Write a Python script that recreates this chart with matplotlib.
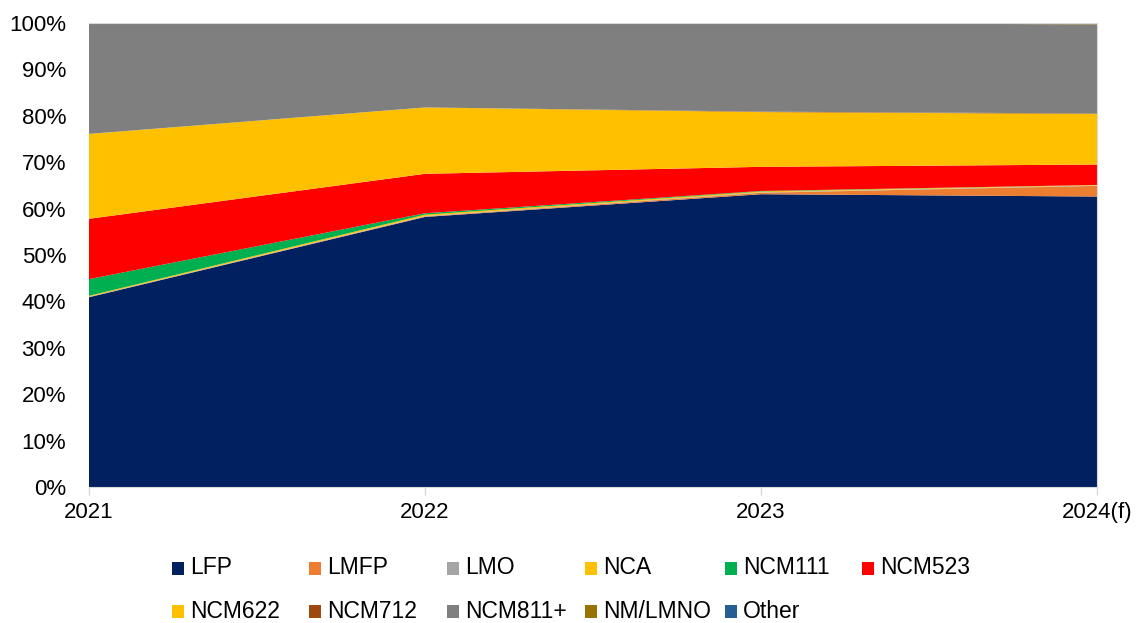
import matplotlib.pyplot as plt
from matplotlib.patches import Rectangle
from matplotlib.ticker import PercentFormatter

plt.rcParams['font.family'] = ['Liberation Sans', 'DejaVu Sans']

W, H = 1139, 623

years = ['2021', '2022', '2023', '2024(f)']

# cathode chemistry share of each year, in percent
LFP     = [40.9, 58.2, 63.1, 62.6]
LMFP    = [0.0, 0.1, 0.3, 2.3]
LMO     = [0.1, 0.1, 0.1, 0.1]
NCA     = [0.2, 0.3, 0.2, 0.1]
NCM111  = [3.6, 0.3, 0.1, 0.0]
NCM523  = [13.0, 8.5, 5.2, 4.4]
NCM622  = [18.3, 14.3, 11.8, 10.9]
NCM712  = [0.0, 0.0, 0.1, 0.1]
NCM811  = [23.9, 18.2, 19.1, 19.2]
NMLMNO  = [0.0, 0.0, 0.0, 0.2]
Other   = [0.0, 0.0, 0.0, 0.1]

names = ['LFP', 'LMFP', 'LMO', 'NCA', 'NCM111', 'NCM523',
         'NCM622', 'NCM712', 'NCM811+', 'NM/LMNO', 'Other']
series = [LFP, LMFP, LMO, NCA, NCM111, NCM523,
          NCM622, NCM712, NCM811, NMLMNO, Other]
colors = ['#002060', '#ED7D31', '#A5A5A5', '#FFC000', '#00B050', '#FF0000',
          '#FFC000', '#9E480E', '#7F7F7F', '#997300', '#255E91']

fig = plt.figure(figsize=(W / 100, H / 100), dpi=100)
ax = fig.add_axes([89 / W, 1 - 487 / H, (1097 - 89) / W, (487 - 23) / H])

x = list(range(len(years)))
ax.stackplot(x, series, colors=colors, linewidth=0)

ax.set_xlim(0, 3)
ax.set_ylim(0, 100)
ax.set_yticks(range(0, 101, 10))
ax.yaxis.set_major_formatter(PercentFormatter(decimals=0))
ax.set_xticks(x)
ax.set_xticklabels(years)
ax.tick_params(axis='y', length=0, pad=16.5, labelsize=16)
ax.tick_params(axis='x', length=6, width=1, color='#D9D9D9', pad=5, labelsize=16,
               direction='out')

ax.spines['left'].set_visible(False)
for s in ['top', 'right', 'bottom']:
    ax.spines[s].set_color('#D9D9D9')

# legend laid out on a fixed grid: six entries on row one, five on row two
col_x = [172, 309, 447, 585, 725, 862]
row_y = [568, 611]
for i, (name, c) in enumerate(zip(names, colors)):
    px = col_x[i % 6]
    py = row_y[i // 6]
    fig.add_artist(Rectangle((px / W, 1 - (py + 6.5) / H), 12 / W, 13 / H,
                             transform=fig.transFigure, facecolor=c,
                             edgecolor='none'))
    fig.text((px + 18) / W, 1 - py / H, name, fontsize=16.5,
             ha='left', va='center')

fig.savefig('out.png', dpi=100)
